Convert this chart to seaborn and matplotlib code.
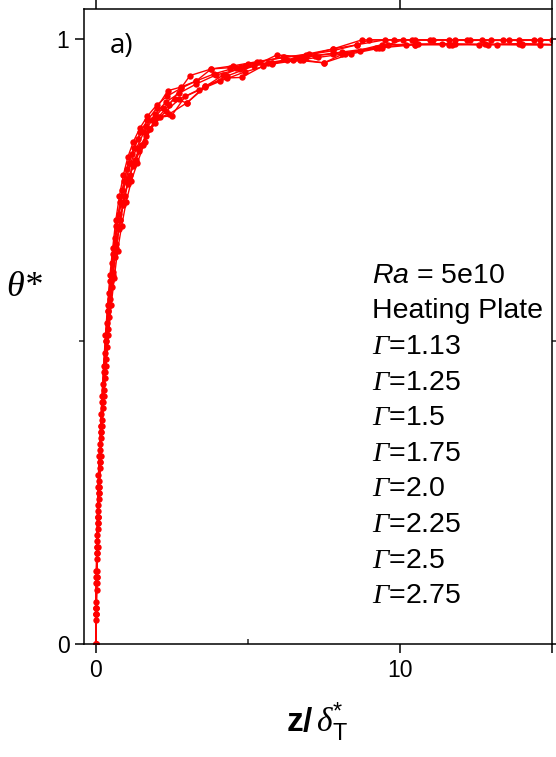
import matplotlib
matplotlib.use("Agg")
import matplotlib.pyplot as plt
import numpy as np
import pandas as pd
import seaborn as sns
from matplotlib.ticker import FixedLocator

# Temperature profiles near the heating plate, one per aspect ratio
gammas = ["1.13", "1.25", "1.5", "1.75", "2.0", "2.25", "2.5", "2.75"]

z_113 = [0, 0.01, 0.02, 0.04, 0.06, 0.09, 0.13, 0.18, 0.23, 0.29, 0.36, 0.44, 0.53, 0.63, 0.75, 0.88, 1.03, 1.20,
         1.40, 1.65, 1.95, 2.30, 2.75, 3.30, 3.95, 4.75, 5.65, 6.60, 7.80, 8.75, 9.80, 11.0, 12.3, 13.6, 15.0]
t_113 = [0, 0.06, 0.12, 0.18, 0.23, 0.28, 0.33, 0.38, 0.43, 0.48, 0.53, 0.58, 0.63, 0.67, 0.71, 0.75, 0.785, 0.81,
         0.835, 0.855, 0.875, 0.895, 0.91, 0.925, 0.94, 0.95, 0.96, 0.968, 0.983, 0.998, 0.998, 0.998, 0.997, 0.998, 0.998]

z_125 = [0, 0.01, 0.03, 0.05, 0.07, 0.10, 0.14, 0.19, 0.25, 0.31, 0.38, 0.46, 0.56, 0.67, 0.80, 0.95, 1.12, 1.32,
         1.55, 1.80, 2.10, 2.50, 2.95, 3.60, 4.20, 4.90, 5.80, 6.80, 7.50, 8.10, 9.40, 10.5, 11.8, 13.2, 14.6, 15.2]
t_125 = [0, 0.05, 0.11, 0.16, 0.21, 0.26, 0.31, 0.36, 0.41, 0.46, 0.51, 0.56, 0.61, 0.655, 0.70, 0.74, 0.775, 0.80,
         0.825, 0.85, 0.87, 0.873, 0.905, 0.921, 0.94, 0.955, 0.96, 0.965, 0.96, 0.974, 0.99, 0.99, 0.991, 0.99, 0.99, 0.99]

z_150 = [0, 0.02, 0.03, 0.05, 0.08, 0.11, 0.15, 0.20, 0.26, 0.33, 0.40, 0.48, 0.57, 0.68, 0.80, 0.94, 1.10, 1.28,
         1.50, 1.75, 2.05, 2.40, 3.10, 3.80, 4.50, 5.30, 6.15, 6.90, 7.80, 8.60, 9.00, 10.4, 11.8, 13.0, 14.4, 15.2]
t_150 = [0, 0.07, 0.12, 0.17, 0.22, 0.27, 0.32, 0.37, 0.42, 0.47, 0.52, 0.57, 0.615, 0.66, 0.70, 0.74, 0.77, 0.80,
         0.825, 0.85, 0.87, 0.89, 0.939, 0.95, 0.955, 0.962, 0.969, 0.973, 0.98, 0.99, 0.998, 0.998, 0.998, 0.997, 0.998, 0.998]

z_175 = [0, 0.01, 0.02, 0.04, 0.07, 0.10, 0.14, 0.18, 0.23, 0.29, 0.35, 0.42, 0.50, 0.60, 0.71, 0.84, 0.98, 1.15,
         1.35, 1.58, 1.85, 2.20, 2.60, 3.00, 3.60, 4.30, 4.80, 5.50, 6.30, 7.20, 8.10, 9.20, 10.2, 11.4, 12.6, 13.9, 15.2]
t_175 = [0, 0.05, 0.10, 0.15, 0.20, 0.25, 0.30, 0.35, 0.40, 0.45, 0.50, 0.55, 0.60, 0.645, 0.69, 0.73, 0.765, 0.795,
         0.82, 0.845, 0.865, 0.885, 0.90, 0.894, 0.922, 0.935, 0.936, 0.955, 0.965, 0.972, 0.978, 0.985, 0.99, 0.992, 0.99,
         0.991, 0.99]

z_200 = [0, 0.02, 0.04, 0.06, 0.09, 0.12, 0.16, 0.21, 0.27, 0.34, 0.42, 0.51, 0.61, 0.72, 0.85, 1.00, 1.17, 1.37,
         1.62, 1.95, 2.40, 3.00, 3.60, 4.30, 5.20, 5.95, 6.90, 7.80, 8.70, 9.60, 10.6, 11.7, 12.9, 14.0, 15.2]
t_200 = [0, 0.06, 0.11, 0.16, 0.21, 0.26, 0.31, 0.36, 0.41, 0.46, 0.51, 0.56, 0.605, 0.65, 0.69, 0.73, 0.765, 0.795,
         0.83, 0.868, 0.875, 0.894, 0.92, 0.938, 0.955, 0.973, 0.97, 0.975, 0.98, 0.99, 0.991, 0.99, 0.99, 0.992, 0.99]

z_225 = [0, 0.01, 0.03, 0.05, 0.08, 0.11, 0.15, 0.19, 0.24, 0.30, 0.37, 0.45, 0.54, 0.64, 0.76, 0.90, 1.05, 1.22,
         1.42, 1.66, 1.94, 2.30, 2.75, 3.40, 4.10, 4.90, 5.80, 6.70, 7.30, 8.20, 9.30, 10.1, 11.1, 12.2, 13.4, 14.6, 15.2]
t_225 = [0, 0.04, 0.09, 0.14, 0.19, 0.24, 0.29, 0.34, 0.39, 0.44, 0.49, 0.54, 0.59, 0.64, 0.685, 0.725, 0.76, 0.79,
         0.815, 0.84, 0.86, 0.88, 0.90, 0.915, 0.93, 0.945, 0.958, 0.965, 0.969, 0.975, 0.985, 0.998, 0.998, 0.998, 0.997,
         0.998, 0.998]

z_250 = [0, 0.02, 0.03, 0.05, 0.07, 0.10, 0.13, 0.17, 0.22, 0.27, 0.33, 0.40, 0.48, 0.57, 0.68, 0.80, 0.93, 1.08,
         1.26, 1.46, 1.70, 2.00, 2.37, 2.80, 3.30, 3.80, 4.40, 5.00, 5.80, 6.50, 7.50, 8.40, 9.40, 10.5, 11.6, 12.8, 14.0,
         15.2]
t_250 = [0, 0.05, 0.10, 0.15, 0.20, 0.25, 0.30, 0.35, 0.40, 0.45, 0.50, 0.55, 0.60, 0.645, 0.69, 0.73, 0.765, 0.795,
         0.82, 0.845, 0.865, 0.885, 0.914, 0.92, 0.93, 0.95, 0.952, 0.958, 0.96, 0.965, 0.96, 0.975, 0.985, 0.99, 0.99,
         0.991, 0.99, 0.99]

z_275 = [0, 0.01, 0.02, 0.04, 0.06, 0.08, 0.12, 0.16, 0.21, 0.26, 0.32, 0.39, 0.47, 0.56, 0.66, 0.78, 0.91, 1.06,
         1.24, 1.45, 1.70, 2.00, 2.35, 2.80, 3.30, 3.90, 4.60, 5.40, 6.20, 7.00, 7.80, 8.60, 9.50, 10.5, 11.6, 12.7, 13.9,
         15.2]
t_275 = [0, 0.06, 0.11, 0.16, 0.21, 0.26, 0.31, 0.36, 0.41, 0.46, 0.51, 0.56, 0.61, 0.655, 0.70, 0.74, 0.775, 0.805,
         0.83, 0.852, 0.872, 0.89, 0.905, 0.918, 0.93, 0.942, 0.952, 0.962, 0.969, 0.975, 0.983, 0.99, 0.998, 0.998, 0.998,
         0.998, 0.997, 0.998]

z_lists = [z_113, z_125, z_150, z_175, z_200, z_225, z_250, z_275]
t_lists = [t_113, t_125, t_150, t_175, t_200, t_225, t_250, t_275]

df = pd.concat(
    [pd.DataFrame({"z": z, "theta": t, "gamma": g}) for z, t, g in zip(z_lists, t_lists, gammas)],
    ignore_index=True,
)

sns.set_style("ticks")
plt.rcParams.update({
    "font.family": ["Liberation Sans", "DejaVu Sans"],
    "text.color": "black",
    "mathtext.fontset": "custom",
    "mathtext.rm": "Liberation Sans",
    "mathtext.it": "Liberation Sans:italic",
    "mathtext.bf": "Liberation Sans:bold",
    "mathtext.cal": "Liberation Serif:italic",
    "axes.linewidth": 1.1,
    "axes.edgecolor": "black",
})

W, H = 556, 757
fig = plt.figure(figsize=(W / 100, H / 100), dpi=100)
ax = fig.add_axes([84 / W, 1 - 644 / H, (552 - 84) / W, (644 - 9) / H])

sns.lineplot(
    data=df, x="z", y="theta", hue="gamma", palette=["#ff0000"] * len(gammas),
    estimator=None, sort=False, marker="o", markersize=4.6, markeredgewidth=0,
    linewidth=1.0, legend=False, ax=ax,
)

ax.set_xlim(-0.385, 15.0)
ax.set_ylim(0, 1.049)
ax.xaxis.set_major_locator(FixedLocator([0, 10, 15]))
ax.set_xticklabels(["0", "10", ""])
ax.yaxis.set_major_locator(FixedLocator([0, 1]))
ax.set_yticklabels(["0", "1"])
ax.xaxis.set_minor_locator(FixedLocator([5]))
ax.yaxis.set_minor_locator(FixedLocator([0.5]))
ax.tick_params(which="major", direction="out", length=6.5, width=1.1, top=True, right=True,
               labeltop=False, labelright=False, labelsize=16.5, pad=4, colors="black")
ax.tick_params(axis="x", which="minor", direction="in", length=3.5, width=1.1, bottom=True, top=False)
ax.tick_params(axis="y", which="minor", direction="out", length=3.5, width=1.1, left=True, right=True)
ax.set_xlabel("")
ax.set_ylabel("")


def fx(px):
    return px / W


def fy(py):
    return 1 - py / H


# axis titles
fig.text(fx(24), fy(287), "θ*", family="Liberation Serif", style="italic", fontsize=26,
         ha="center", va="center")
fig.text(fx(317), fy(722), r"$\mathbf{z/}\,\mathcal{\delta}_{\mathrm{T}}^{*}$", fontsize=24,
         ha="center", va="center")

# panel tag
fig.text(fx(110), fy(46), "a)", family="Open Sans", fontsize=20, ha="left", va="center")

# annotation block
x0 = 372
fig.text(fx(x0), fy(276), r"$Ra$ = 5e10", fontsize=20.5, ha="left", va="center")
fig.text(fx(x0), fy(311), "Heating Plate", fontsize=20.5, ha="left", va="center")
for i, g in enumerate(gammas):
    yy = 347 + 35.6 * i
    fig.text(fx(x0), fy(yy), r"$\mathcal{\Gamma}$=" + g, fontsize=20.5, ha="left", va="center")

fig.savefig("out.png", dpi=100)
